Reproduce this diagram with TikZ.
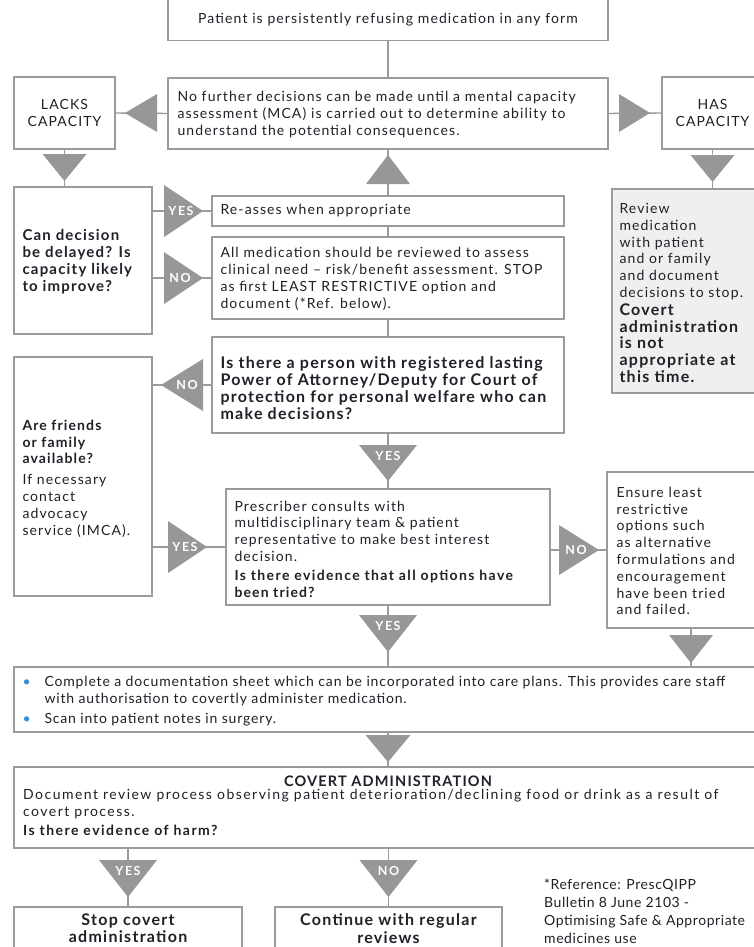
\documentclass[tikz,border=0pt]{standalone}
\usepackage{fontspec}
\setmainfont{Lato}[LetterSpace=8]
\usetikzlibrary{calc}
\definecolor{bd}{HTML}{9B9B9B}
\definecolor{trig}{HTML}{979797}
\definecolor{rv}{HTML}{EFEFEF}
\definecolor{bul}{HTML}{3B8FD0}
\definecolor{txt}{HTML}{202028}
\newcommand\fs{\fontsize{14}{16.8}\selectfont}
\newcommand\fbig{\fontsize{16}{17.5}\selectfont\bfseries}
\newcommand\flab{\fontsize{12.5}{12}\selectfont\bfseries\addfontfeatures{LetterSpace=12}}
\tikzset{
  box/.style={draw=bd, line width=1.4pt, fill=white, inner sep=0pt, align=center, font=\fs, text=txt},
  conn/.style={draw=bd, line width=1.4pt},
  lab/.style={text=white, font=\flab, inner sep=0pt},
  txtn/.style={font=\fs, text=txt, inner sep=0pt, align=left},
}
\newcommand\TD[4]{\fill[trig] ({#1-#3/2},#2) -- ({#1+#3/2},#2) -- (#1,{#2+#4}) -- cycle;}
\newcommand\TU[4]{\fill[trig] ({#1-#3/2},#2) -- ({#1+#3/2},#2) -- (#1,{#2-#4}) -- cycle;}
\newcommand\TR[4]{\fill[trig] (#1,{#2-#3/2}) -- (#1,{#2+#3/2}) -- ({#1+#4},#2) -- cycle;}
\newcommand\TL[4]{\fill[trig] (#1,{#2-#3/2}) -- (#1,{#2+#3/2}) -- ({#1-#4},#2) -- cycle;}
\begin{document}
\begin{tikzpicture}[x=1pt,y=-1pt]
\useasboundingbox (0,0) rectangle (754,947);
\fill[white] (0,0) rectangle (754,947);
\coordinate (cx) at (388,0);
% boxes
\node[box, minimum width=440pt, minimum height=41pt] (top) at (388,20) {Patient is persistently refusing medication in any form};
\node[box, minimum width=440pt, minimum height=71pt] (mca) at (388,113.5) {};
\node[box, minimum width=101pt, minimum height=72pt] (lacks) at (64.5,113) {LACKS\\CAPACITY};
\node[box, minimum width=101pt, minimum height=72pt] (has) at (712.5,113) {HAS\\CAPACITY};
\node[box, minimum width=138pt, minimum height=147pt] (candec) at (83,260.5) {};
\node[box, minimum width=352pt, minimum height=30pt] (reasses) at (388,211) {};
\node[box, minimum width=352pt, minimum height=82pt] (allmed) at (388,278) {};
\node[box, minimum width=352pt, minimum height=96pt] (person) at (388,385) {};
\node[box, minimum width=138pt, minimum height=239pt] (friends) at (83,476.5) {};
\node[box, minimum width=324pt, minimum height=116pt] (prescr) at (388,547) {};
\node[box, minimum width=168pt, minimum height=156pt] (ensure) at (691,550) {};
\node[box, fill=rv, minimum width=163pt, minimum height=204pt] (review) at (693.5,291) {};
\node[box, minimum width=761pt, minimum height=65pt] (doc) at (394.5,699.5) {};
\node[box, minimum width=761pt, minimum height=81pt] (covert) at (394.5,807.5) {};
\node[box, minimum width=228pt, minimum height=63pt] (stop) at (128,938.5) {};
\node[box, minimum width=227pt, minimum height=63pt] (cont) at (388.5,938.5) {};
% texts
\node[txtn, anchor=west] (tmca) at ([xshift=10pt,yshift=-1pt]mca.west) {No further decisions can be made until a mental capacity\\assessment (MCA) is carried out to determine ability to\\understand the potential consequences.};
\node[txtn, font=\fontsize{15}{17.2}\selectfont\bfseries, anchor=west] (tcandec) at ([xshift=9pt,yshift=-1pt]candec.west) {Can decision\\be delayed? Is\\capacity likely\\to improve?};
\node[txtn, anchor=west] (treasses) at ([xshift=9pt]reasses.west) {Re-asses when appropriate};
\node[txtn, anchor=west] (tallmed) at ([xshift=9pt,yshift=-1pt]allmed.west) {All medication should be reviewed to assess\\clinical need – risk/benefit assessment. STOP\\as first LEAST RESTRICTIVE option and\\document (*Ref. below).};
\node[txtn, font=\fontsize{16}{17}\selectfont\bfseries, anchor=west] (tperson) at ([xshift=9pt,yshift=-3pt]person.west) {Is there a person with registered lasting\\Power of Attorney/Deputy for Court of\\protection for personal welfare who can\\make decisions?};
\node[txtn, anchor=west] (tfriends) at ([xshift=9pt,yshift=-2pt]friends.west) {\textbf{Are friends}\\\textbf{or family}\\\textbf{available?}\\[4pt]If necessary\\contact\\advocacy\\service (IMCA).};
\node[txtn, anchor=west] (tprescr) at ([xshift=9pt,yshift=-2pt]prescr.west) {Prescriber consults with\\multidisciplinary team \& patient\\representative to make best interest\\decision.\\[2pt]\textbf{\addfontfeatures{LetterSpace=10}Is there evidence that all options have}\\\textbf{been tried?}};
\node[txtn, anchor=west] (tensure) at ([xshift=10pt,yshift=-1pt]ensure.west) {Ensure least\\restrictive\\options such\\as alternative\\formulations and\\encouragement\\have been tried\\and failed.};
\node[txtn, anchor=west] (treview) at ([xshift=8pt,yshift=-2pt]review.west) {Review\\medication\\with patient\\and or family\\and document\\decisions to stop.\\[1pt]{\fbig Covert}\\{\fbig administration}\\{\fbig is not}\\{\fbig appropriate at}\\{\fbig this time.}};
\node[txtn, anchor=west, font=\fs\addfontfeatures{LetterSpace=6}] (tdoc) at ([xshift=9pt,yshift=-2pt]doc.west) {\begin{tabular}{@{}p{22pt}@{}l@{}}\textcolor{bul}{•}&Complete a documentation sheet which can be incorporated into care plans. This provides care staff\\&with authorisation to covertly administer medication.\\[3pt]\textcolor{bul}{•}&Scan into patient notes in surgery.\end{tabular}};
\node[txtn, font=\fontsize{14.5}{16.8}\selectfont\bfseries] (covtitle) at (388,781) {COVERT ADMINISTRATION};
\node[txtn, anchor=north west, font=\fs\addfontfeatures{LetterSpace=10.5}] (covtext) at (23,789) {Document review process observing patient deterioration/declining food or drink as a result of\\covert process.\\[2pt]\textbf{Is there evidence of harm?}};
\node[txtn, font=\fbig, align=center, anchor=north] (stoptxt) at (128,913.5) {Stop covert\\administration};
\node[txtn, font=\fbig, align=center, anchor=north] (conttxt) at (388.5,913.5) {Continue with regular\\reviews};
\node[txtn, font=\fontsize{14}{18}\selectfont\addfontfeatures{LetterSpace=4}, anchor=north west] (ref) at (544,879) {*Reference: PrescQIPP\\Bulletin 8 June 2103 -\\Optimising Safe \& Appropriate\\medicines use};
% connectors
\draw[conn] (top.south) -- (mca.north);
\draw[conn] (mca.west) -- (lacks.east);
\draw[conn] (mca.east) -- (has.west);
\draw[conn] (lacks.south) -- (lacks.south |- candec.north);
\draw[conn] (has.south) -- (has.south |- review.north);
\draw[conn] (reasses.north) -- (mca.south);
\draw[conn] (candec.east |- reasses.west) -- (reasses.west);
\draw[conn] (candec.east |- allmed.west) -- (allmed.west);
\draw[conn] (reasses.south) -- (allmed.north);
\draw[conn] (allmed.south) -- (person.north);
\draw[conn] (person.west) -- (person.west -| friends.east);
\draw[conn] (friends.east |- prescr.west) -- (prescr.west);
\draw[conn] (person.south) -- (prescr.north);
\draw[conn] (prescr.east |- ensure.west) -- (ensure.west);
\draw[conn] (prescr.south) -- (prescr.south |- doc.north);
\draw[conn] (ensure.south) -- (ensure.south |- doc.north);
\draw[conn] (cx |- doc.south) -- (cx |- covert.north);
\draw[conn] (stop.north) -- (stop.north |- covert.south);
\draw[conn] (cont.north) -- (cont.north |- covert.south);
% triangles
\TL{157}{113}{38}{32}
\TR{619}{113}{38}{31}
\TD{64.5}{154}{44}{27}
\TD{712.5}{155}{44}{27}
\TU{388}{184}{44}{29}
\TR{164}{211}{52}{39}
\TR{164}{278}{52}{39}
\TL{203}{385}{52}{42}
\TR{168}{547}{52}{39}
\TD{388}{445}{58}{36}
\TR{559}{550}{50}{40}
\TD{388}{615}{58}{37}
\TD{691}{635}{44}{28}
\TD{388}{735}{45}{27}
\TD{128}{860}{58}{37}
\TD{388.5}{860}{58}{37}
% labels
\node[lab] (l1) at (181,211) {YES};
\node[lab] (l2) at (180,278) {NO};
\node[lab] (l3) at (187,385) {NO};
\node[lab] (l4) at (185,547) {YES};
\node[lab] (l5) at (388,456) {YES};
\node[lab] (l6) at (576,550) {NO};
\node[lab] (l7) at (388,626) {YES};
\node[lab] (l8) at (128,871) {YES};
\node[lab] (l9) at (388.5,871) {NO};
\end{tikzpicture}
\end{document}
